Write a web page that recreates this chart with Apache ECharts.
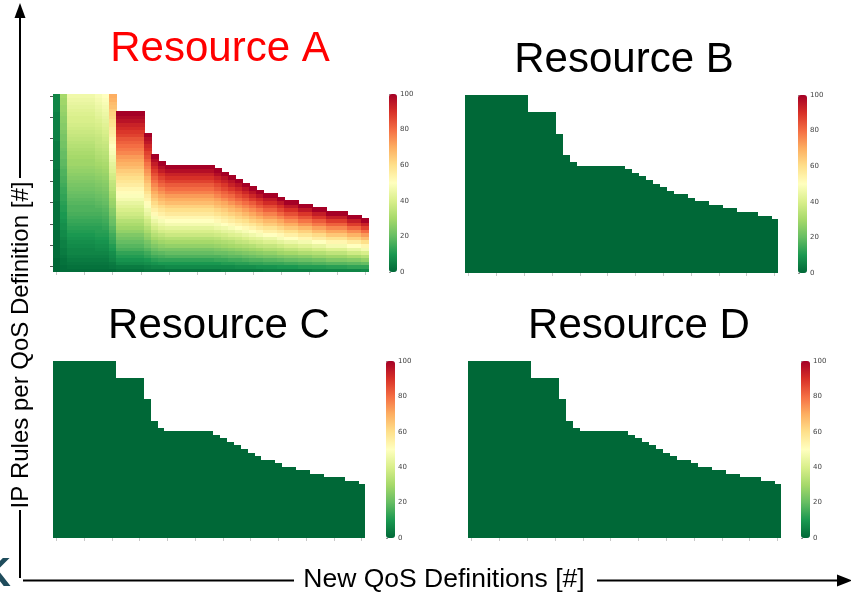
<!DOCTYPE html>
<html>
<head>
<meta charset="utf-8">
<script src="https://cdn.jsdelivr.net/npm/echarts@6/dist/echarts.min.js"></script>
<style>
  html, body { margin: 0; padding: 0; background: #ffffff; }
  #chart { width: 851px; height: 594px; }
</style>
</head>
<body>
<div id="chart"></div>
<script>
// Number of IP rules installed for each new QoS definition (column height, in rules)
const ruleCounts = [50, 50, 50, 50, 50, 50, 50, 50, 50, 45, 45, 45, 45, 39, 33, 31,
  30, 30, 30, 30, 30, 30, 30, 29, 28, 27, 26, 25, 24, 23, 22, 22, 21, 20, 20,
  19, 19, 18, 18, 17, 17, 17, 16, 16, 15];
const maxRules = 50;

// Load (%) reached by the last rule of each QoS definition, per resource
const peakLoadA = [6, 30, 46, 46, 46, 46, 48, 50, 70,
  100, 100, 100, 100, 100, 100, 100, 100, 100, 100, 100, 100, 100, 100, 100,
  100, 100, 100, 100, 100, 100, 100, 100, 100, 100, 100, 100, 100, 100, 100,
  100, 100, 100, 100, 100, 100];
const peakLoadB = [0, 0, 0, 0, 0, 0, 0, 0, 0, 0, 0, 0, 0, 0, 0, 0, 0, 0, 0, 0, 0, 0, 0,
  0, 0, 0, 0, 0, 0, 0, 0, 0, 0, 0, 0, 0, 0, 0, 0, 0, 0, 0, 0, 0, 0];
const peakLoadC = [0, 0, 0, 0, 0, 0, 0, 0, 0, 0, 0, 0, 0, 0, 0, 0, 0, 0, 0, 0, 0, 0, 0,
  0, 0, 0, 0, 0, 0, 0, 0, 0, 0, 0, 0, 0, 0, 0, 0, 0, 0, 0, 0, 0, 0];
const peakLoadD = [0, 0, 0, 0, 0, 0, 0, 0, 0, 0, 0, 0, 0, 0, 0, 0, 0, 0, 0, 0, 0, 0, 0,
  0, 0, 0, 0, 0, 0, 0, 0, 0, 0, 0, 0, 0, 0, 0, 0, 0, 0, 0, 0, 0, 0];

// Colour bar tick values
const colorbarTicks = [0, 20, 40, 60, 80, 100];

// RdYlGn, reversed: low load green, high load red
const rdYlGnR = ['#006837', '#1a9850', '#66bd63', '#a6d96a', '#d9ef8b', '#ffffbf',
  '#fee08b', '#fdae61', '#f46d43', '#d73027', '#a50026'];

const qosIds = ruleCounts.map((_, i) => String(i));
const ruleIds = [];
for (let r = 0; r < maxRules; r++) ruleIds.push(String(r));

// Each rule of a QoS definition carries its share of that definition's peak load
function buildCells(peaks) {
  const cells = [];
  ruleCounts.forEach((count, x) => {
    for (let r = 0; r < count; r++) {
      cells.push([x, r, Math.round(peaks[x] * (r + 1) / count)]);
    }
  });
  return cells;
}

// Heatmap cell snapped to whole pixels so neighbouring cells leave no seams
function renderCell(params, api) {
  const c = api.coord([api.value(0), api.value(1)]);
  const s = api.size([1, 1]);
  const x0 = Math.floor(c[0] - s[0] / 2), x1 = Math.ceil(c[0] + s[0] / 2);
  const y0 = Math.floor(c[1] - s[1] / 2), y1 = Math.ceil(c[1] + s[1] / 2);
  return {
    type: 'rect',
    shape: { x: x0, y: y0, width: x1 - x0, height: y1 - y0 },
    style: { fill: api.visual('color') }
  };
}

const panels = [
  { name: 'Resource A', peaks: peakLoadA, titleColor: '#ff0000', tx: 220, ty: 49,
    grid: { left: 53, top: 94, width: 316, height: 178 },
    bar: { left: 389, top: 94, width: 8, height: 178 }, yTicks: true },
  { name: 'Resource B', peaks: peakLoadB, titleColor: '#000000', tx: 624, ty: 60,
    grid: { left: 465, top: 95, width: 313, height: 178 },
    bar: { left: 798, top: 95, width: 9, height: 178 }, yTicks: false },
  { name: 'Resource C', peaks: peakLoadC, titleColor: '#000000', tx: 219, ty: 326,
    grid: { left: 53, top: 361, width: 312, height: 177 },
    bar: { left: 386, top: 361, width: 9, height: 177 }, yTicks: false },
  { name: 'Resource D', peaks: peakLoadD, titleColor: '#000000', tx: 639, ty: 326,
    grid: { left: 468, top: 361, width: 313, height: 177 },
    bar: { left: 801, top: 361, width: 9, height: 177 }, yTicks: false }
];

const grids = [], xAxes = [], yAxes = [], series = [], visualMaps = [], graphics = [];

panels.forEach((p) => {
  // heatmap grid
  grids.push(Object.assign({ containLabel: false }, p.grid));
  xAxes.push({
    type: 'category', gridIndex: grids.length - 1, data: qosIds,
    axisLine: { show: false },
    axisTick: { show: true, length: 3, alignWithLabel: true,
      interval: (idx) => idx % 4 === 0, lineStyle: { color: '#c8c8c8', width: 1 } },
    axisLabel: { show: false }, splitLine: { show: false }
  });
  yAxes.push({
    type: 'category', gridIndex: grids.length - 1, data: ruleIds,
    axisLine: { show: false },
    axisTick: { show: p.yTicks, length: 3, alignWithLabel: true,
      interval: (idx) => idx % 6 === 1, lineStyle: { color: '#555555', width: 1 } },
    axisLabel: { show: false }, splitLine: { show: false }
  });
  series.push({
    type: 'custom', name: p.name,
    xAxisIndex: xAxes.length - 1, yAxisIndex: yAxes.length - 1,
    data: buildCells(p.peaks),
    encode: { x: 0, y: 1 },
    renderItem: renderCell,
    silent: true, animation: false
  });
  visualMaps.push({
    type: 'continuous', seriesIndex: series.length - 1, dimension: 2,
    min: 0, max: 100, calculable: false, hoverLink: false,
    orient: 'vertical', left: p.bar.left, top: p.bar.top, padding: 0,
    itemWidth: p.bar.width, itemHeight: p.bar.height,
    text: null, showLabel: false,
    inRange: { color: rdYlGnR }
  });

  // colour bar scale
  grids.push(Object.assign({ containLabel: false }, p.bar));
  xAxes.push({ type: 'value', gridIndex: grids.length - 1, min: 0, max: 1, show: false });
  yAxes.push({
    type: 'value', gridIndex: grids.length - 1, position: 'right',
    min: colorbarTicks[0], max: colorbarTicks[colorbarTicks.length - 1],
    interval: colorbarTicks[1] - colorbarTicks[0],
    axisLine: { show: false },
    axisTick: { show: true, length: 2, lineStyle: { color: '#777777', width: 0.8 } },
    axisLabel: { show: true, fontSize: 7, color: '#444444', margin: 3,
      fontFamily: 'DejaVu Sans' },
    splitLine: { show: false }
  });

  graphics.push({
    type: 'text', x: p.tx, y: p.ty, silent: true,
    style: { text: p.name, fill: p.titleColor, fontSize: 42,
      fontFamily: 'Liberation Sans, Arial, sans-serif', align: 'center', verticalAlign: 'middle' }
  });
});

const ink = '#000000';
graphics.push(
  // vertical axis arrow
  { type: 'line', silent: true, shape: { x1: 20, y1: 16, x2: 20, y2: 178 },
    style: { stroke: ink, lineWidth: 2 } },
  { type: 'polygon', silent: true, shape: { points: [[20, 3], [14.5, 18], [25.5, 18]] },
    style: { fill: ink } },
  { type: 'line', silent: true, shape: { x1: 20, y1: 510, x2: 20, y2: 578 },
    style: { stroke: ink, lineWidth: 2 } },
  { type: 'text', silent: true, x: 21, y: 345, rotation: Math.PI / 2,
    style: { text: 'IP Rules per QoS Definition [#]', fill: ink, fontSize: 24,
      fontFamily: 'Liberation Sans, Arial, sans-serif', align: 'center', verticalAlign: 'middle' } },
  // horizontal axis arrow
  { type: 'line', silent: true, shape: { x1: 23, y1: 580.5, x2: 294, y2: 580.5 },
    style: { stroke: ink, lineWidth: 2 } },
  { type: 'text', silent: true, x: 444, y: 580,
    style: { text: 'New QoS Definitions [#]', fill: ink, fontSize: 26.5,
      fontFamily: 'Liberation Sans, Arial, sans-serif', align: 'center', verticalAlign: 'middle' } },
  { type: 'line', silent: true, shape: { x1: 597, y1: 580.5, x2: 840, y2: 580.5 },
    style: { stroke: ink, lineWidth: 2 } },
  { type: 'polygon', silent: true, shape: { points: [[852, 580.5], [837, 574.5], [837, 586.5]] },
    style: { fill: ink } },
  // logo fragment at the lower-left edge
  { type: 'text', silent: true, x: 11, y: 575,
    style: { text: 'K', fill: '#1f4c5c', fontSize: 40, fontWeight: 'bold',
      fontFamily: 'Liberation Sans, Arial, sans-serif', align: 'right', verticalAlign: 'middle' } }
);

const chart = echarts.init(document.getElementById('chart'), null, { renderer: 'canvas' });
chart.setOption({
  animation: false,
  backgroundColor: '#ffffff',
  grid: grids,
  xAxis: xAxes,
  yAxis: yAxes,
  visualMap: visualMaps,
  series: series,
  graphic: graphics
});
</script>
</body>
</html>
